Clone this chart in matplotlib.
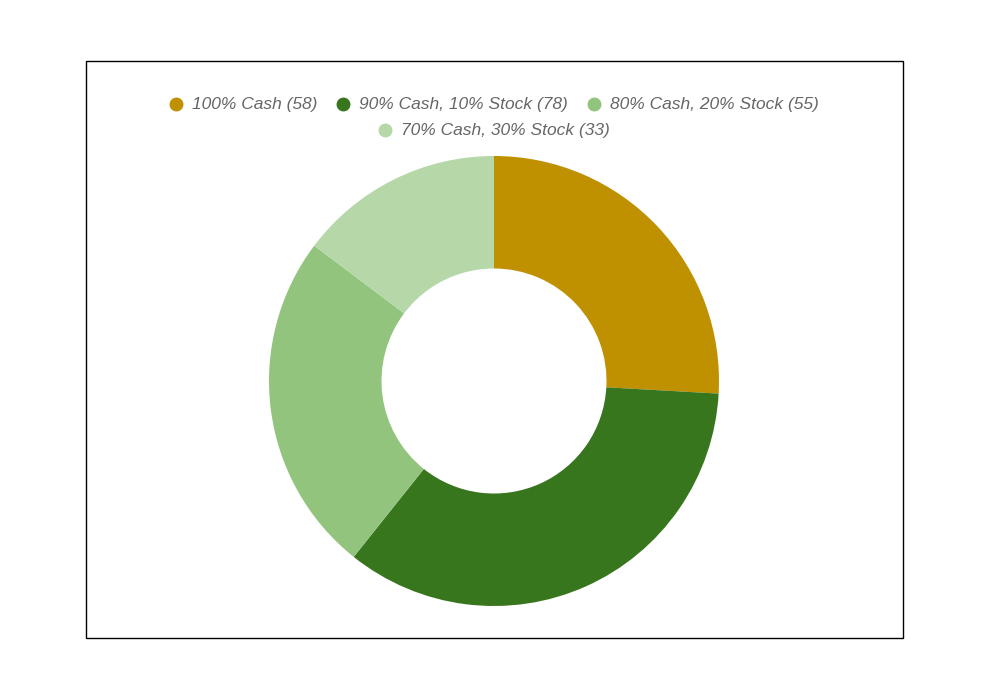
import matplotlib.pyplot as plt
from matplotlib.patches import Rectangle

labels = ['100% Cash', '90% Cash, 10% Stock', '80% Cash, 20% Stock', '70% Cash, 30% Stock']
values = [58, 78, 55, 33]
colors = ['#bf9000', '#38761d', '#93c47d', '#b6d7a8']

W, H = 990, 700
fig = plt.figure(figsize=(9.9, 7), dpi=100)
fig.patch.set_facecolor('white')

# frame around chart area
fig.add_artist(Rectangle((86 / W, 1 - 638 / H), (903 - 86) / W, (638 - 61) / H,
                         transform=fig.transFigure, fill=False, edgecolor='black', linewidth=1))

# donut
cx, cy, r = 494, 381, 225
ax = fig.add_axes([(cx - r) / W, 1 - (cy + r) / H, 2 * r / W, 2 * r / H])
ax.pie(values, colors=colors, startangle=90, counterclock=False, radius=1,
       wedgeprops=dict(width=0.5, linewidth=0))
ax.set_xlim(-1, 1)
ax.set_ylim(-1, 1)
ax.axis('off')

# legend, two centered rows
rows = [[0, 1, 2], [3]]
row_y = [104, 130]
fig.canvas.draw()
renderer = fig.canvas.get_renderer()
dot_w, dot_gap, item_gap = 12, 10, 20
for row, y in zip(rows, row_y):
    texts, widths = [], []
    for i in row:
        t = fig.text(0, 1 - y / H, f'{labels[i]} ({values[i]})', fontsize=12.5,
                     fontstyle='italic', color='#666666', family='Liberation Sans',
                     va='center', ha='left')
        texts.append(t)
        widths.append(t.get_window_extent(renderer).width)
    total = sum(dot_w + dot_gap + w for w in widths) + item_gap * (len(row) - 1)
    x = cx - total / 2
    for i, t, w in zip(row, texts, widths):
        fig.lines.append(plt.Line2D([(x + dot_w / 2) / W], [1 - y / H], marker='o',
                                    markersize=9, color=colors[i], linestyle='none',
                                    transform=fig.transFigure))
        t.set_x((x + dot_w + dot_gap) / W)
        x += dot_w + dot_gap + w + item_gap

fig.savefig('out.png', dpi=100, facecolor='white')
